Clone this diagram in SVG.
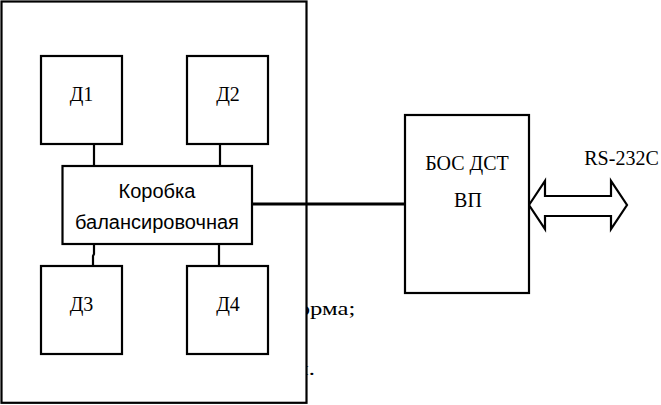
<svg xmlns="http://www.w3.org/2000/svg" width="661" height="405" viewBox="0 0 661 405">
<style>
.box{fill:#fff;stroke:#000;stroke-width:2.2}
.ser{font-family:"Liberation Serif","Times New Roman",serif;font-size:20px;fill:#000;text-anchor:middle}
.san{font-family:"Liberation Sans",Arial,sans-serif;font-size:20px;fill:#000;text-anchor:middle}
.bg{font-family:"Liberation Serif","Times New Roman",serif;font-size:19px;fill:#000}
.ln{fill:none;stroke:#000;stroke-width:2.2}
</style>
<rect width="661" height="405" fill="#fff"/>
<g id="background-text">
<text class="bg" transform="translate(281.7,315) scale(1.3,1)">форма;</text>
<text class="bg" transform="translate(315,375) scale(1.3,1)" style="text-anchor:end">и т.п.</text>
</g>
<g id="enclosure">
<rect class="box" x="1.5" y="1.5" width="305" height="401.3"/>
</g>
<g id="connectors">
<line class="ln" x1="94" y1="144" x2="94" y2="166"/>
<line class="ln" x1="220" y1="144" x2="220" y2="166"/>
<polyline class="ln" points="94,244 94,254 93,256 93,266"/>
<line class="ln" x1="219" y1="244" x2="219" y2="266"/>
<line class="ln" x1="252" y1="204" x2="405" y2="204" style="stroke-width:3"/>
<polygon class="box" points="529,205 545,181 545,196 611,196 611,181 627,205 611,229 611,216 545,216 545,229"/>
</g>
<g id="d1"><rect class="box" x="41" y="56" width="81" height="88"/><text class="ser" x="81.5" y="101">Д1</text></g>
<g id="d2"><rect class="box" x="187" y="56" width="81" height="88"/><text class="ser" x="228" y="101">Д2</text></g>
<g id="d3"><rect class="box" x="41" y="266" width="81" height="88"/><text class="ser" x="81.5" y="311">Д3</text></g>
<g id="d4"><rect class="box" x="187" y="266" width="81" height="88"/><text class="ser" x="228" y="311">Д4</text></g>
<g id="korobka"><rect class="box" x="62.5" y="166" width="189.5" height="78"/>
<text class="san" x="157" y="198">Коробка</text>
<text class="san" x="157" y="229">балансировочная</text></g>
<g id="bos"><rect class="box" x="405" y="115" width="124" height="178"/>
<text class="ser" x="467" y="170">БОС ДСТ</text>
<text class="ser" x="468" y="207">ВП</text></g>
<g id="rs-label"><text class="ser" x="621.5" y="165">RS-232C</text></g>
</svg>
